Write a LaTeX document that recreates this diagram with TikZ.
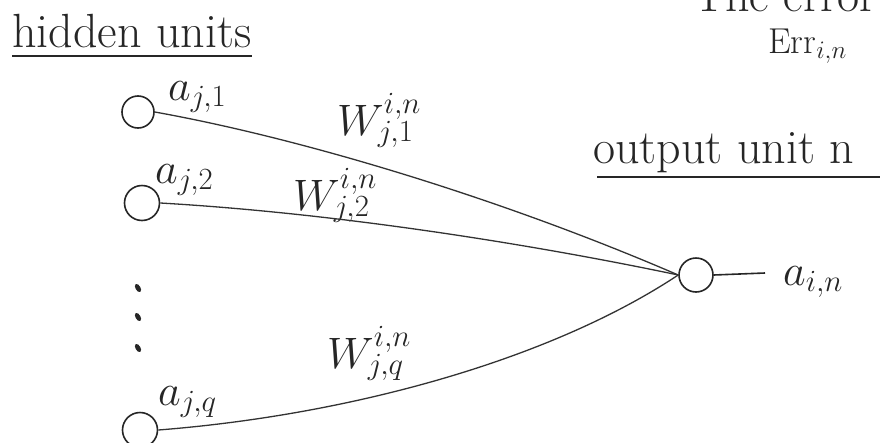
\RequirePackage{fix-cm}
\documentclass[tikz,border=0pt]{standalone}
\usepackage{fontspec}
\begin{document}
\begin{tikzpicture}[x=1pt,y=-1pt,
  ink/.style={draw=black!85, line width=1.6pt},
  unit/.style={ink, circle, minimum size=32pt, inner sep=0pt},
  wire/.style={draw=black!80, line width=1.3pt},
  txt/.style={inner sep=0pt, font=\fontsize{44}{50}\selectfont, text=black!85},
  headtxt/.style={inner sep=0pt, font=\fontsize{48}{54}\selectfont, text=black!85},
  smalltxt/.style={inner sep=0pt, font=\fontsize{36}{42}\selectfont, text=black!85}]
\useasboundingbox (0,0) rectangle (880,442);
% top cut-off heading
\node[headtxt, anchor=base west] (top) at (693,11) {The error};
\node[smalltxt, anchor=base west] (err) at (768,53) {Err$_{i,n}$};
% headings
\node[headtxt, anchor=base west] (hu) at (12,47) {hidden units};
\draw[ink] ([yshift=-9pt]hu.base west) -- ([yshift=-9pt]hu.base east);
\node[headtxt, anchor=base west] (ou) at (593,163) {output unit n};
\coordinate (ouend) at (880,177);
\draw[ink] ([xshift=4pt,yshift=-14pt]ou.base west) -- (ouend);
% hidden units
\node[unit, minimum size=32pt] (h1) at (138,112) {};
\node[txt, anchor=base west] (a1) at (168,100) {$a_{j,1}$};
\node[unit, minimum size=35pt] (h2) at (142,203) {};
\node[txt, anchor=base west] (a2) at (155,183) {$a_{j,2}$};
\node[unit, minimum size=35pt] (hq) at (140,430) {};
\node[txt, anchor=base west] (aq) at (158,405) {$a_{j,q}$};
% dots
\foreach \yy/\nm in {288/d1,317/d2,348/d3}
  \fill[black!85, rotate around={-60:(138,\yy)}] (138,\yy) ellipse (4.5pt and 2.5pt);
% output unit
\node[unit, minimum size=34pt] (out) at (696,275) {};
\coordinate (oend) at (765,273);
\draw[ink] (out.east) -- (oend);
\node[txt, anchor=base west] (ain) at (783,285) {$a_{i,n}$};
% weights
\node[txt, anchor=base west] (w1) at (337,135) {$W^{i,n}_{j,1}$};
\node[txt, anchor=base west] (w2) at (293,210) {$W^{i,n}_{j,2}$};
\node[txt, anchor=base west] (wq) at (327,368) {$W^{i,n}_{j,q}$};
% connectors
\draw[wire] (h1.east) .. controls (300,138) and (500,198) .. (out.west);
\draw[wire] (h2.east) .. controls (350,214) and (550,248) .. (out.west);
\draw[wire] (hq.east) .. controls (350,415) and (550,360) .. (out.west);
\end{tikzpicture}
\end{document}
